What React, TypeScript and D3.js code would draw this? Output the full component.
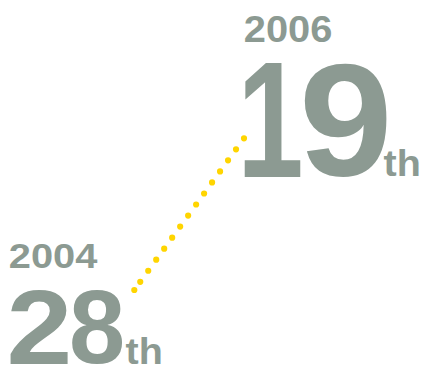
import React, { useMemo } from "react";
import * as d3 from "d3";

const years = [2004, 2006];
const ranks = [28, 19];
const suffixes = ["th", "th"];

const W = 422;
const H = 370;
const GREY = "#8c9a92";
const YELLOW = "#ffd500";
const FAMILY = "Liberation Sans";

// target ink boxes [left, right, top, bottom] of each label piece
const labelBoxes = [
  {
    year: [10, 97.5, 243.5, 268.5],
    digitsX: [[10, 68], [72, 122.5]],
    numY: [290.5, 364],
    suffix: [126, 160.5, 337, 364],
  },
  {
    year: [245, 331, 16.5, 42.5],
    digitsX: [[244.5, 300.5], [304, 386.5]],
    numY: [63, 176.5],
    suffix: [384, 418.5, 149, 176.5],
  },
];

type Box = number[];

let ctx: CanvasRenderingContext2D | null = null;
function measure(s: string) {
  if (!ctx) {
    const c = document.createElement("canvas");
    ctx = c.getContext("2d");
  }
  ctx!.font = `bold 100px '${FAMILY}'`;
  const m = ctx!.measureText(s);
  return {
    l: m.actualBoundingBoxLeft,
    r: m.actualBoundingBoxRight,
    a: m.actualBoundingBoxAscent,
    d: m.actualBoundingBoxDescent,
  };
}

function FitText({ text, box }: { text: string; box: Box }) {
  const [L, R, T, B] = box;
  const m = measure(text);
  const sx = (R - L) / (m.r + m.l);
  const sy = (B - T) / (m.a + m.d);
  const tx = L + sx * m.l;
  const ty = T + sy * m.a;
  return (
    <text
      transform={`translate(${tx},${ty}) scale(${sx},${sy})`}
      fontSize={100}
      fontFamily={`'${FAMILY}', Arial, sans-serif`}
      fontWeight="bold"
      fill={GREY}
    >
      {text}
    </text>
  );
}

export default function App() {
  const x = d3.scaleLinear().domain([years[0], years[1]]).range([134.3, 244]);
  const y = d3.scaleLinear().domain([ranks[0], ranks[1]]).range([290, 138.3]);
  const pts: [number, number][] = years.map((yr, i) => [x(yr), y(ranks[i])]);
  const path = d3.line()([pts[1], pts[0]]) as string;

  const labels = useMemo(
    () =>
      years.map((yr, i) => {
        const b = labelBoxes[i];
        const digits = String(ranks[i]).split("");
        return (
          <g key={yr}>
            <FitText text={String(yr)} box={b.year} />
            {digits.map((dg, j) => (
              <FitText
                key={j}
                text={dg}
                box={[b.digitsX[j][0], b.digitsX[j][1], b.numY[0], b.numY[1]]}
              />
            ))}
            <FitText text={suffixes[i]} box={b.suffix} />
          </g>
        );
      }),
    []
  );

  return (
    <svg width={W} height={H} style={{ position: "absolute", left: 0, top: 0 }}>
      <rect width={W} height={H} fill="#fff" />
      <path
        d={path}
        fill="none"
        stroke={YELLOW}
        strokeWidth={6.2}
        strokeLinecap="round"
        strokeDasharray="0 13.62"
      />
      <circle cx={pts[0][0]} cy={pts[0][1]} r={3.1} fill={YELLOW} />
      {labels}
    </svg>
  );
}
